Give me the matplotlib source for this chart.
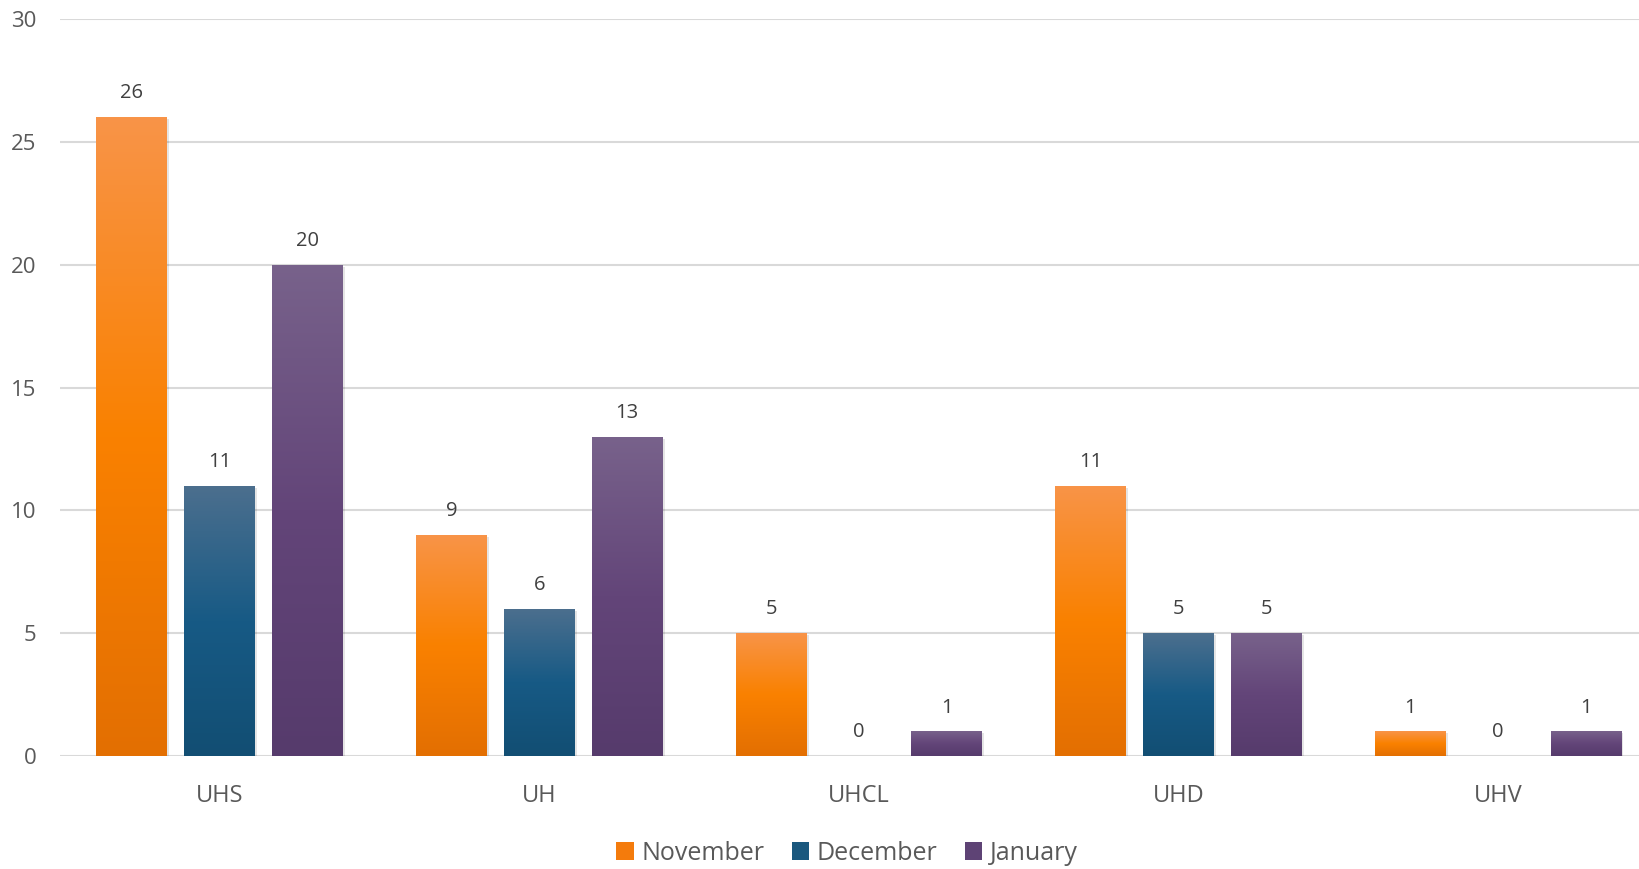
import numpy as np
import matplotlib.pyplot as plt
from matplotlib.colors import LinearSegmentedColormap
from matplotlib.patches import Patch

plt.rcParams['font.family'] = ['Open Sans', 'DejaVu Sans']

# data
campuses = ["UHS", "UH", "UHCL", "UHD", "UHV"]
months = ["November", "December", "January"]
november = [26, 9, 5, 11, 1]
december = [11, 6, 0, 5, 0]
january = [20, 13, 1, 5, 1]

# gradient colours top -> middle -> bottom
grads = [
    ["#F89448", "#FA8100", "#E36F02"],
    ["#4C6F8E", "#175A85", "#124E73"],
    ["#78628B", "#634579", "#563B6C"],
]
solid = ["#F47B0C", "#1A587E", "#5E4375"]

fig = plt.figure(figsize=(16.39, 8.69), dpi=100)
ax = fig.add_axes([0.0366, 0.130, 0.975, 0.848])

x = np.arange(len(campuses))
w = 0.222
step = 0.275
grad_img = np.linspace(0, 1, 256).reshape(-1, 1)

for i, (vals, g) in enumerate(zip([november, december, january], grads)):
    cmap = LinearSegmentedColormap.from_list("g%d" % i, g[::-1])
    bars = ax.bar(x + (i - 1) * step, vals, w, color="none", edgecolor="none", zorder=3)
    for b, v in zip(bars, vals):
        bx, by = b.get_x(), b.get_y()
        bw, bh = b.get_width(), b.get_height()
        if bh > 0:
            im = ax.imshow(grad_img, cmap=cmap, aspect="auto", origin="lower",
                           extent=[bx, bx + bw, by, by + bh], zorder=3)
            im.set_clip_path(b)
            # faint shadow
            ax.bar(bx + bw / 2 + 0.006, bh, bw, bottom=-0.08, color="#000000",
                   alpha=0.10, zorder=2)
        ax.annotate(str(v), (bx + bw / 2, bh), xytext=(0, 10), textcoords="offset points",
                    ha="center", va="bottom", fontsize=14.5, color="#404040")

ax.set_xlim(-0.5, 4.5)
ax.set_ylim(0, 30)
ax.set_yticks(range(0, 31, 5))
ax.set_xticks(x)
ax.set_xticklabels(campuses)
ax.grid(axis="y", color="#D9D9D9", linewidth=1.5, zorder=0)
ax.set_axisbelow(True)
for s in ax.spines.values():
    s.set_visible(False)
ax.tick_params(axis="both", length=0, colors="#595959")
ax.tick_params(axis="y", labelsize=16, pad=17)
ax.tick_params(axis="x", labelsize=17, pad=20)

handles = [Patch(facecolor=c, edgecolor="none") for c in solid]
leg = ax.legend(handles, months, loc="center", bbox_to_anchor=(0.4925, -0.132),
                ncol=3, frameon=False, fontsize=18, handlelength=0.7, handleheight=0.7,
                handletextpad=0.3, columnspacing=1.1)
for t in leg.get_texts():
    t.set_color("#595959")

fig.savefig("out.png", dpi=100)
